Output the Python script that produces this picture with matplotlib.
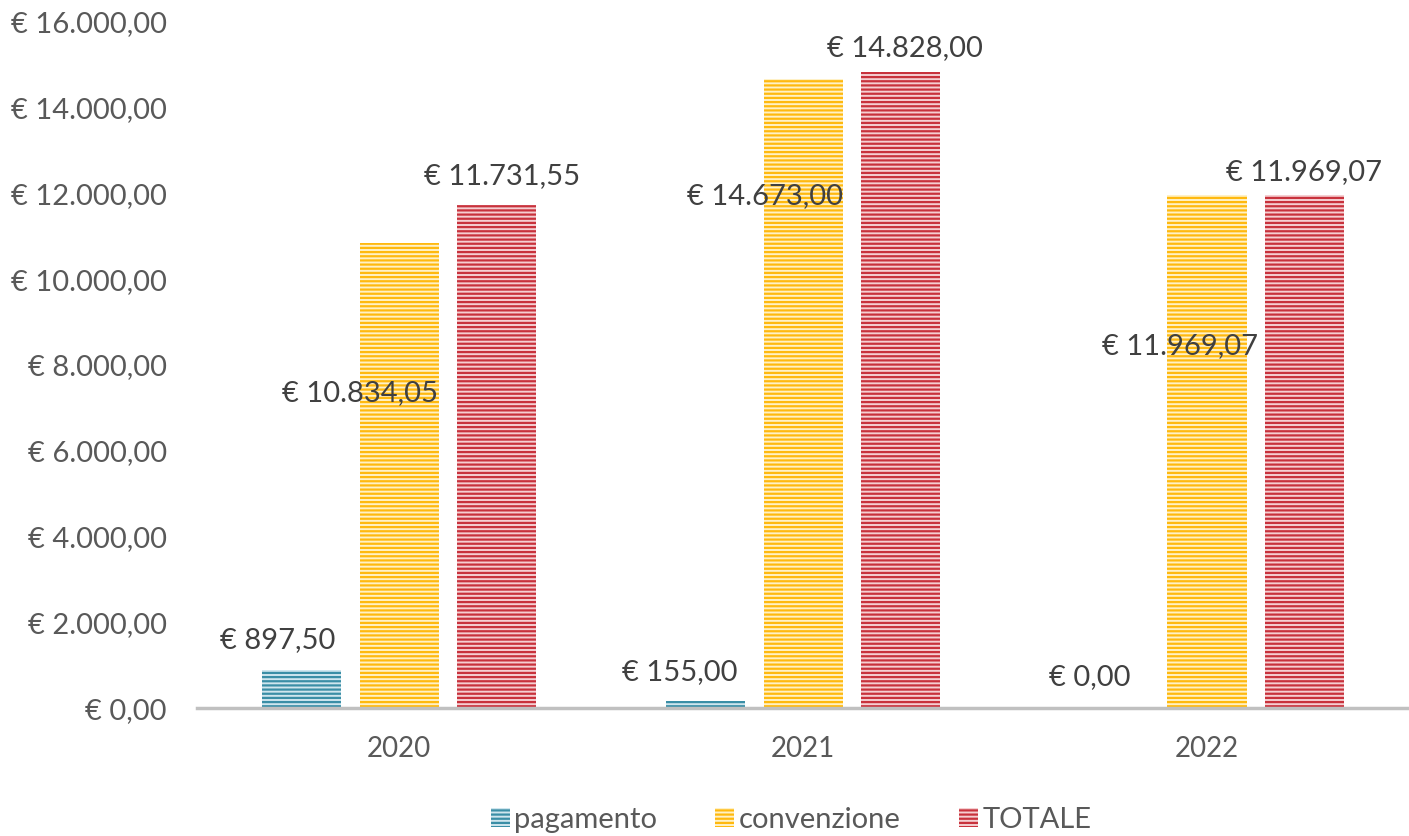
import matplotlib.pyplot as plt
import numpy as np
from matplotlib.ticker import FuncFormatter

plt.rcParams['font.family'] = ['Lato', 'DejaVu Sans']
plt.rcParams['hatch.linewidth'] = 1.6

anni = ['2020', '2021', '2022']
serie = ['pagamento', 'convenzione', 'TOTALE']
pagamento = [897.50, 155.00, 0.00]
convenzione = [10834.05, 14673.00, 11969.07]
totale = [11731.55, 14828.00, 11969.07]

# colore pieno (righe) e colore chiaro (fondo) per ogni serie
righe = ['#3a8ea6', '#ffb90f', '#c8323c']
fondo = ['#cfe6ee', '#fff1c6', '#f5cfd2']

# spostamento delle etichette in pixel (dx, dy) rispetto alla cima della barra
spost_pag = [(-24, 30), (-26, 29), (-20, 31)]
spost_conv = [(-39, -150), (-38, -117), (-27, -151)]
spost_tot = [(6, 29), (4, 24), (0, 23)]


def euro(v, pos=None):
    s = f'{v:,.2f}'.replace(',', 'X').replace('.', ',').replace('X', '.')
    return '€ ' + s


fig, ax = plt.subplots(figsize=(14.09, 8.36), dpi=100)
fig.subplots_adjust(left=0.14, right=1.0, top=0.974, bottom=0.153)

x = np.arange(len(anni))
w = 0.196
d = 0.241
valori = [pagamento, convenzione, totale]
spost = [spost_pag, spost_conv, spost_tot]
for i, (nome, vals) in enumerate(zip(serie, valori)):
    bars = ax.bar(x + (i - 1) * d, vals, w, color=fondo[i], edgecolor=righe[i],
                  hatch='----', linewidth=0, label=nome)
    for b, v, (dx, dy) in zip(bars, vals, spost[i]):
        ax.annotate(euro(v), (b.get_x() + b.get_width() / 2, v),
                    xytext=(dx, dy), textcoords='offset pixels',
                    ha='center', va='center', fontsize=21, color='#404040')

ax.set_xlim(-0.5, 2.5)
ax.set_ylim(0, 16000)
ax.set_yticks(np.arange(0, 16001, 2000))
ax.yaxis.set_major_formatter(FuncFormatter(euro))
ax.set_xticks(x)
ax.set_xticklabels(anni)
ax.tick_params(axis='y', length=0, labelsize=21, labelcolor='#595959', pad=22)
ax.tick_params(axis='x', length=0, labelsize=20, labelcolor='#595959', pad=20)
for s in ['top', 'right', 'left']:
    ax.spines[s].set_visible(False)
ax.spines['bottom'].set_color('#c0c0c0')
ax.spines['bottom'].set_linewidth(2.5)

leg = ax.legend(loc='center', bbox_to_anchor=(0.49, -0.163), ncol=3,
                frameon=False, fontsize=21, handlelength=0.65, handleheight=0.65,
                handletextpad=0.15, columnspacing=2.0, labelcolor='#595959')

plt.savefig('out.png')
